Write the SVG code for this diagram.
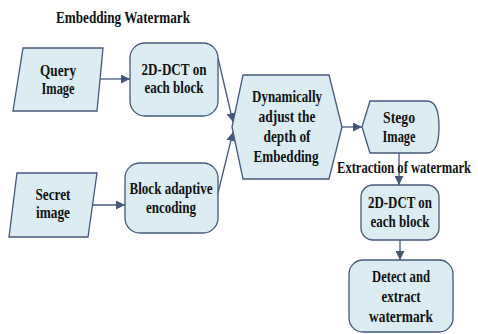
<svg xmlns="http://www.w3.org/2000/svg" width="478" height="334" viewBox="0 0 478 334">
<defs>
<style>
.s{fill:#dbedf3;stroke:#46587a;stroke-width:1.3}
.t{font-family:'Liberation Serif','Times New Roman',serif;font-weight:bold;font-size:16px;fill:#111;text-anchor:middle}
.c{fill:none;stroke:#46587a;stroke-width:1.3}
</style>
<marker id="a" viewBox="0 0 10 10" refX="10" refY="5" markerWidth="9" markerHeight="9" markerUnits="userSpaceOnUse" orient="auto">
<path d="M0,0 L10,5 L0,10 z" fill="#46587a"/>
</marker>
</defs>
<rect width="478" height="334" fill="#fff"/>
<text class="t" x="123" y="23" textLength="134" lengthAdjust="spacingAndGlyphs">Embedding Watermark</text>
<g id="connectors">
<line class="c" x1="98" y1="79" x2="130" y2="79" marker-end="url(#a)"/>
<line class="c" x1="92" y1="205" x2="125" y2="205" marker-end="url(#a)"/>
<line class="c" x1="218" y1="58" x2="233" y2="122" marker-end="url(#a)"/>
<line class="c" x1="218" y1="193" x2="233" y2="132" marker-end="url(#a)"/>
<line class="c" x1="342" y1="127" x2="362" y2="127" marker-end="url(#a)"/>
<line class="c" x1="399" y1="153" x2="399" y2="185" marker-end="url(#a)"/>
<line class="c" x1="400" y1="240" x2="400" y2="260" marker-end="url(#a)"/>
</g>
<g id="query">
<polygon class="s" points="23,48 103,48 97,111 13,111"/>
<text class="t" x="58" y="76" textLength="36" lengthAdjust="spacingAndGlyphs">Query</text>
<text class="t" x="58" y="94" textLength="33" lengthAdjust="spacingAndGlyphs">Image</text>
</g>
<g id="dct1">
<rect class="s" x="130" y="43" width="88" height="73" rx="15"/>
<text class="t" x="174" y="75" textLength="65" lengthAdjust="spacingAndGlyphs">2D-DCT on</text>
<text class="t" x="174" y="93" textLength="59" lengthAdjust="spacingAndGlyphs">each block</text>
</g>
<g id="secret">
<polygon class="s" points="17,173 97,173 88,237 9,237"/>
<text class="t" x="53" y="200" textLength="35" lengthAdjust="spacingAndGlyphs">Secret</text>
<text class="t" x="53" y="218" textLength="34" lengthAdjust="spacingAndGlyphs">image</text>
</g>
<g id="encode">
<rect class="s" x="125" y="163" width="93" height="70" rx="15"/>
<text class="t" x="171" y="194" textLength="83" lengthAdjust="spacingAndGlyphs">Block adaptive</text>
<text class="t" x="171" y="213" textLength="50" lengthAdjust="spacingAndGlyphs">encoding</text>
</g>
<g id="adjust">
<polygon class="s" points="243,75 329,75 342,127 329,179 243,179 232,127"/>
<text class="t" x="287" y="102" textLength="70" lengthAdjust="spacingAndGlyphs">Dynamically</text>
<text class="t" x="287" y="122" textLength="57" lengthAdjust="spacingAndGlyphs">adjust the</text>
<text class="t" x="287" y="142" textLength="47" lengthAdjust="spacingAndGlyphs">depth of</text>
<text class="t" x="286" y="162" textLength="65" lengthAdjust="spacingAndGlyphs">Embedding</text>
</g>
<g id="stego">
<path class="s" d="M362,127 L370,101 L427,101 Q439,101 439,127 Q439,153 427,153 L370,153 Z"/>
<text class="t" x="399" y="123" textLength="32" lengthAdjust="spacingAndGlyphs">Stego</text>
<text class="t" x="399" y="142" textLength="33" lengthAdjust="spacingAndGlyphs">Image</text>
</g>
<text class="t" x="404" y="173" textLength="134" lengthAdjust="spacingAndGlyphs">Extraction of watermark</text>
<g id="dct2">
<rect class="s" x="361" y="185" width="78" height="55" rx="12"/>
<text class="t" x="400" y="208" textLength="64" lengthAdjust="spacingAndGlyphs">2D-DCT on</text>
<text class="t" x="400" y="227" textLength="59" lengthAdjust="spacingAndGlyphs">each block</text>
</g>
<g id="detect">
<rect class="s" x="349" y="260" width="104" height="72" rx="14"/>
<text class="t" x="401" y="282" textLength="58" lengthAdjust="spacingAndGlyphs">Detect and</text>
<text class="t" x="401" y="302" textLength="39" lengthAdjust="spacingAndGlyphs">extract</text>
<text class="t" x="401" y="322" textLength="64" lengthAdjust="spacingAndGlyphs">watermark</text>
</g>
</svg>
